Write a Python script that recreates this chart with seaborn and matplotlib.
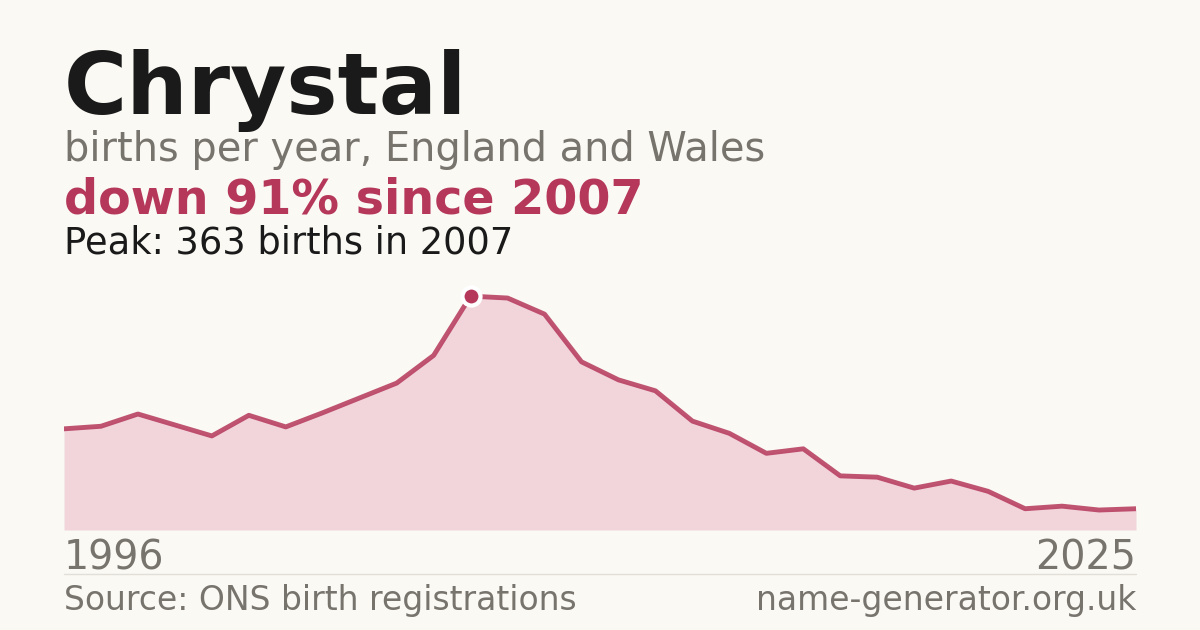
import matplotlib
matplotlib.use("Agg")
import matplotlib.pyplot as plt
import seaborn as sns
import pandas as pd

years = list(range(1996, 2026))
births = [157, 161, 180, 163, 146, 178, 160, 182, 205, 228, 271, 363, 360, 335, 261,
          233, 216, 169, 150, 119, 126, 84, 82, 65, 76, 60, 33, 37, 31, 33]
peak_year = 2007
peak_value = 363

bg = "#faf9f4"
red = "#b5375a"
pink = "#f2d5db"
grey = "#77736d"

df = pd.DataFrame({"year": years, "births": births})

sns.set_theme(style="white")
plt.rcParams['font.family'] = ['DejaVu Sans']

fig = plt.figure(figsize=(12, 6.3), dpi=100, facecolor=bg)
ax = fig.add_axes([64 / 1200, 100 / 630, 1072 / 1200, 250 / 630])
ax.set_facecolor(bg)

ax.fill_between(df["year"], df["births"], 0, color=pink, lw=0)
sns.lineplot(data=df, x="year", y="births", ax=ax, color=red, lw=3.5, alpha=0.85)
ax.plot([peak_year], [peak_value], "o", color=red, ms=13, mec="white", mew=3, zorder=5)

ax.set_xlim(years[0], years[-1])
ax.set_ylim(0, 388)
ax.axis("off")

def t(x, y, s, size, color, weight="normal", ha="left"):
    fig.text(x / 1200, 1 - y / 630, s, fontsize=size, color=color, fontweight=weight,
             ha=ha, va="baseline")

t(64, 114, "Chrystal", 62, "#1a1a1a", "bold")
t(64, 161, "births per year, England and Wales", 28.7, grey)
t(64, 214, "down 91% since 2007", 34.3, red, "bold")
t(64, 254, "Peak: 363 births in 2007", 26.5, "#1a1a1a")
t(64, 569, str(years[0]), 28.5, grey)
t(1136, 569, str(years[-1]), 28.5, grey, ha="right")
t(64, 610, "Source: ONS birth registrations", 23.8, grey)
t(1136, 610, "name-generator.org.uk", 23.8, grey, ha="right")

fig.add_artist(plt.Line2D([64 / 1200, 1136 / 1200], [1 - 574 / 630] * 2, color="#e2dfd8", lw=1))

fig.savefig("out.png", dpi=100, facecolor=bg)
